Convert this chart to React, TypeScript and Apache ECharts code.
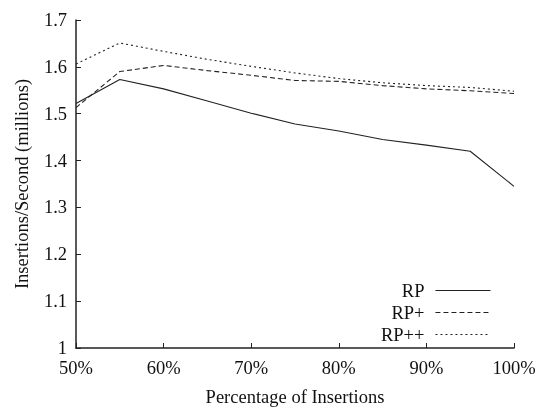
import React, { useEffect, useRef } from "react";
import * as echarts from "echarts";

const xValues = [50, 55, 60, 65, 70, 75, 80, 85, 90, 95, 100];
const rp = [1.522, 1.573, 1.553, 1.527, 1.501, 1.478, 1.463, 1.445, 1.433, 1.42, 1.345];
const rpPlus = [1.513, 1.59, 1.603, 1.592, 1.582, 1.571, 1.569, 1.56, 1.553, 1.549, 1.543];
const rpPlusPlus = [1.606, 1.651, 1.633, 1.616, 1.601, 1.587, 1.575, 1.566, 1.56, 1.556, 1.548];
const seriesNames = ["RP", "RP+", "RP++"];

const FONT = "Liberation Serif";
const FS = 18.5;

export default function App() {
  const ref = useRef<HTMLDivElement>(null);
  useEffect(() => {
    if (!ref.current) return;
    const chart = echarts.init(ref.current, null, { renderer: "svg" });
    const mk = (name: string, vals: number[], type: any) => ({
      name,
      type: "line",
      data: xValues.map((x, i) => [x, vals[i]]),
      symbol: "none",
      showSymbol: false,
      lineStyle: { color: "#222", width: 1.1, type },
      itemStyle: { color: "#222" },
    });
    chart.setOption({
      animation: false,
      textStyle: { fontFamily: FONT },
      grid: { left: 76, right: 31, top: 20, bottom: 62 },
      legend: {
        orient: "vertical",
        right: 54,
        top: 281,
        padding: 0,
        align: "right",
        itemWidth: 55,
        itemHeight: 10,
        itemGap: 3,
        itemStyle: { opacity: 0 },
        lineStyle: { width: 1.1 },
        textStyle: { fontFamily: FONT, fontSize: FS, lineHeight: 18, color: "#111", padding: [0, 6, 0, 0] },
        data: seriesNames,
      },
      xAxis: {
        type: "value",
        min: 50,
        max: 100,
        interval: 10,
        name: "Percentage of Insertions",
        nameLocation: "middle",
        nameGap: 39,
        nameTextStyle: { fontFamily: FONT, fontSize: FS, color: "#111" },
        axisLine: { lineStyle: { color: "#222", width: 1.5 } },
        axisTick: { inside: true, length: 5, lineStyle: { color: "#222" } },
        axisLabel: { formatter: "{value}%", fontFamily: FONT, fontSize: FS, lineHeight: 16, color: "#111", margin: 12 },
        splitLine: { show: false },
      },
      yAxis: {
        type: "value",
        min: 1,
        max: 1.7,
        interval: 0.1,
        name: "Insertions/Second (millions)",
        nameLocation: "middle",
        nameGap: 45,
        nameTextStyle: { fontFamily: FONT, fontSize: FS, color: "#111" },
        axisLine: { show: true, lineStyle: { color: "#222", width: 1.5 } },
        axisTick: { show: true, inside: true, length: 5, lineStyle: { color: "#222" } },
        axisLabel: {
          fontFamily: FONT,
          fontSize: FS,
          lineHeight: 14,
          color: "#111",
          margin: 9,
          formatter: (v: number) => String(Math.round(v * 10) / 10),
        },
        splitLine: { show: false },
      },
      series: [
        mk("RP", rp, "solid"),
        mk("RP+", rpPlus, [5, 3]),
        mk("RP++", rpPlusPlus, [2, 3]),
      ],
    });
    return () => chart.dispose();
  }, []);
  return <div ref={ref} style={{ position: "fixed", left: 0, top: 0, width: 545, height: 411 }} />;
}
